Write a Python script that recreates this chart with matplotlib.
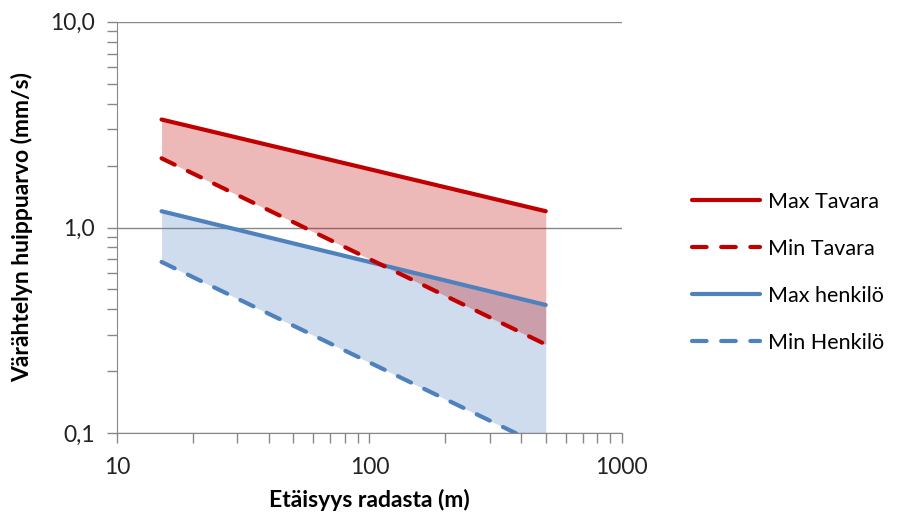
import matplotlib
matplotlib.use("Agg")
import matplotlib.pyplot as plt
from matplotlib.ticker import LogLocator, NullFormatter

plt.rcParams['font.family'] = ['Lato', 'DejaVu Sans']

# distances (m) and peak vibration values (mm/s)
distance = [15, 500]
max_tavara = [3.35, 1.2]
min_tavara = [2.17, 0.27]
max_henkilo = [1.2, 0.42]
min_henkilo = [0.68, 0.085]

red = "#C00000"
blue = "#4F81BD"

fig = plt.figure(figsize=(9.01, 5.2), dpi=100)
ax = fig.add_axes([0.130, 0.167, 0.560, 0.791])

# blue band + lines first, red band over them
ax.fill_between(distance, min_henkilo, max_henkilo, color=blue, alpha=0.27, lw=0)
l3, = ax.plot(distance, max_henkilo, color=blue, lw=3, solid_capstyle='round', label="Max henkilö")
l4, = ax.plot(distance, min_henkilo, color=blue, lw=3, dashes=(3.5, 3.5),
              dash_capstyle='round', label="Min Henkilö")
ax.fill_between(distance, min_tavara, max_tavara, color=red, alpha=0.28, lw=0)
l1, = ax.plot(distance, max_tavara, color=red, lw=3, solid_capstyle='round', label="Max Tavara")
l2, = ax.plot(distance, min_tavara, color=red, lw=3, dashes=(3.5, 3.5),
              dash_capstyle='round', label="Min Tavara")

ax.set_xscale("log")
ax.set_yscale("log")
ax.set_xlim(10, 1000)
ax.set_ylim(0.1, 10)

ax.set_xticks([10, 100, 1000], ["10", "100", "1000"])
ax.set_yticks([0.1, 1, 10], ["0,1", "1,0", "10,0"])
ax.xaxis.set_minor_locator(LogLocator(base=10, subs=range(2, 10)))
ax.yaxis.set_minor_locator(LogLocator(base=10, subs=range(2, 10)))
ax.xaxis.set_minor_formatter(NullFormatter())
ax.yaxis.set_minor_formatter(NullFormatter())
ax.tick_params(which='both', length=7, width=1, color="#888888", direction='out',
               labelsize=16.5, labelcolor="#222222")
ax.tick_params(axis='x', which='major', pad=10)
ax.tick_params(axis='y', which='major', pad=9)

ax.grid(axis='y', which='major', color="#888888", lw=1)
ax.set_axisbelow(True)
for s in ["top", "right"]:
    ax.spines[s].set_visible(False)
for s in ["left", "bottom"]:
    ax.spines[s].set_color("#888888")

ax.set_xlabel("Etäisyys radasta (m)", fontsize=16.5, fontweight='bold', labelpad=8)
ax.set_ylabel("Värähtelyn huippuarvo (mm/s)", fontsize=16.5, fontweight='bold', labelpad=12)

fig.legend(handles=[l1, l2, l3, l4], loc="upper left", bbox_to_anchor=(0.747, 0.668),
           frameon=False, fontsize=15.5, handlelength=3.15, handletextpad=0.37, labelspacing=1.25)

fig.savefig("out.png", dpi=100)
